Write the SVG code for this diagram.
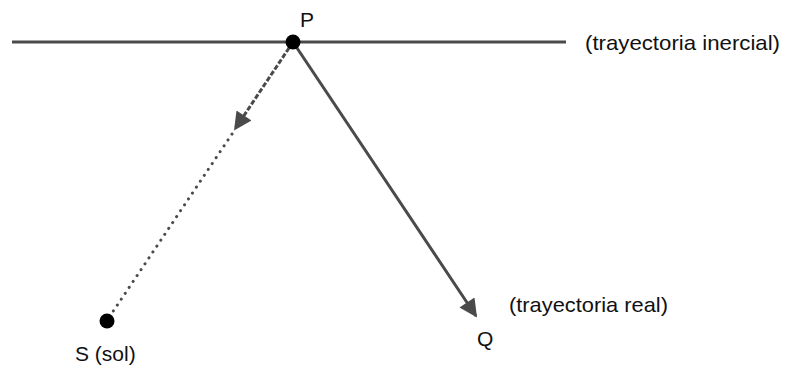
<svg xmlns="http://www.w3.org/2000/svg" width="786" height="366" viewBox="0 0 786 366">
<style>
.t{font-family:"Liberation Sans",Arial,sans-serif;font-size:21px;fill:#111}
.ln{stroke:#4a4a4a;stroke-width:3;fill:none}
</style>
<defs>
<marker id="ah" viewBox="0 0 10 10" refX="9" refY="5" markerWidth="7" markerHeight="6" markerUnits="strokeWidth" orient="auto">
<path d="M0,0 L10,5 L0,10 Z" fill="#4a4a4a"/>
</marker>
</defs>
<rect width="786" height="366" fill="#fff"/>
<g id="connectors">
<line id="inertial" class="ln" x1="12" y1="42" x2="566" y2="42"/>
<line id="pq" class="ln" x1="293" y1="42" x2="476" y2="316" marker-end="url(#ah)"/>
<line id="ps" class="ln" x1="293" y1="42" x2="235" y2="129" stroke-dasharray="5,2" marker-end="url(#ah)"/>
<line id="sdots" class="ln" x1="232" y1="134" x2="110" y2="316" stroke-dasharray="0.1,7" stroke-linecap="round" stroke-width="4"/>
</g>
<g id="P"><circle cx="293" cy="42" r="7.5" fill="#000"/><text class="t" x="300" y="27" font-size="17">P</text></g>
<g id="S"><circle cx="107" cy="321" r="7.5" fill="#000"/><text class="t" x="75" y="361" font-size="18">S (sol)</text></g>
<g id="Q"><text class="t" x="477" y="346" font-size="18">Q</text></g>
<g id="lbl1"><text class="t" x="585" y="50" textLength="195" lengthAdjust="spacingAndGlyphs">(trayectoria inercial)</text></g>
<g id="lbl2"><text class="t" x="509" y="312" textLength="159" lengthAdjust="spacingAndGlyphs">(trayectoria real)</text></g>
</svg>
